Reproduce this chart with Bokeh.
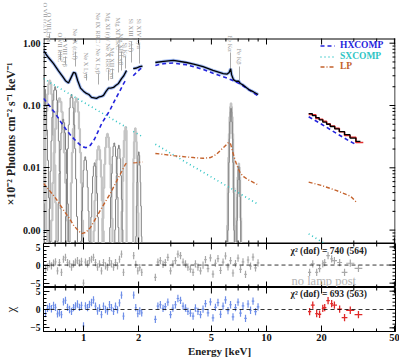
import math
from bokeh.plotting import figure
from bokeh.layouts import column
from bokeh.models import (Range1d, FixedTicker, PrintfTickFormatter, Label, Legend,
                          LegendItem, Span)
from bokeh.embed import file_html
from bokeh.resources import INLINE

# ----------------------------- data ---------------------------------
soft_E = [0.605, 0.64, 0.686, 0.73, 0.77, 0.797, 0.828, 0.855, 0.882, 0.904, 0.93, 0.963, 1.0,
          1.038, 1.07, 1.106, 1.14, 1.178, 1.22, 1.255, 1.286, 1.33, 1.37, 1.41, 1.459, 1.5,
          1.553, 1.613, 1.66, 1.697, 1.718]
soft_F = [0.76, 0.6, 0.47, 0.36, 0.29, 0.25, 0.23, 0.28, 0.34, 0.33, 0.25, 0.19, 0.17,
          0.156, 0.15, 0.135, 0.133, 0.13, 0.138, 0.14, 0.145, 0.17, 0.19, 0.19, 0.195, 0.21,
          0.226, 0.27, 0.3, 0.34, 0.365]
si_E = [1.87, 1.95, 2.03, 2.1]
si_F = [0.39, 0.40, 0.42, 0.43]
mid_E = [2.47, 2.74, 3.1, 3.65, 4.0, 4.5, 5.1, 5.8, 6.1, 6.25, 6.37, 6.45, 6.6, 6.8, 7.06,
         7.2, 7.5, 8.0, 8.5, 9.0]
mid_F = [0.49, 0.51, 0.53, 0.49, 0.46, 0.42, 0.365, 0.325, 0.32, 0.34, 0.39, 0.31, 0.26,
         0.245, 0.245, 0.225, 0.21, 0.18, 0.165, 0.15]
hard_edges = [17.0, 17.8, 18.6, 19.4, 20.3, 21.3, 22.3, 23.6, 25.0, 26.7, 28.6, 30.8, 32.6]
hard_model = [0.074, 0.069, 0.064, 0.059, 0.054, 0.050, 0.046, 0.042, 0.038, 0.034, 0.030, 0.0265]
hard_data_edges = [17.0, 17.8, 18.6, 19.4, 20.3, 21.3, 22.3, 23.6, 25.0, 26.7, 28.6, 30.8, 33.8]
hard_data = [0.072, 0.071, 0.062, 0.060, 0.056, 0.051, 0.047, 0.043, 0.038, 0.033, 0.031, 0.0255]

hx_soft_E = [0.605, 0.65, 0.70, 0.75, 0.80, 0.86, 0.92, 0.98, 1.03, 1.09, 1.15, 1.2, 1.26,
             1.33, 1.40, 1.48, 1.57, 1.65, 1.718]
hx_soft_F = [0.13, 0.10, 0.075, 0.055, 0.042, 0.032, 0.026, 0.022, 0.021, 0.023, 0.029,
             0.038, 0.052, 0.067, 0.086, 0.12, 0.165, 0.22, 0.27]
hx_si_E = [1.87, 1.95, 2.03, 2.1]
hx_si_F = [0.30, 0.34, 0.38, 0.41]
hx_mid_E = [2.47, 2.74, 3.1, 3.65, 4.0, 4.5, 5.1, 5.8, 6.5, 7.1, 8.0, 9.0]
hx_mid_F = [0.44, 0.47, 0.48, 0.45, 0.42, 0.38, 0.33, 0.29, 0.255, 0.225, 0.18, 0.142]
hx_hard_E = [17.0, 20.0, 24.0, 28.0, 31.0]
hx_hard_F = [0.066, 0.050, 0.036, 0.0275, 0.0235]

sx_soft_E = [0.605, 0.8, 1.0, 1.3, 1.718]
sx_soft_F = [0.27, 0.166, 0.113, 0.072, 0.0445]
sx_si_E = [1.87, 2.1]
sx_si_F = [0.0385, 0.0315]
sx_mid_E = [2.47, 4.0, 6.0, 9.0]
sx_mid_F = [0.0239, 0.0104, 0.0052, 0.0026]
sx_hard_E = [17.0, 22.0]
sx_hard_F = [0.00087, 0.00055]

lp_soft_E = [0.605, 0.64, 0.686, 0.73, 0.777, 0.83, 0.882, 0.93, 0.975, 1.03, 1.092, 1.16,
             1.238, 1.32, 1.404, 1.48, 1.553, 1.62, 1.697, 1.718]
lp_soft_F = [0.0056, 0.0046, 0.0036, 0.0028, 0.0021, 0.0016, 0.0012, 0.001, 0.00088, 0.00092,
             0.0011, 0.0015, 0.0021, 0.0029, 0.0039, 0.0053, 0.007, 0.0088, 0.0115, 0.0118]
lp_si_E = [1.87, 1.95, 2.03, 2.1]
lp_si_F = [0.0120, 0.0121, 0.0123, 0.0124]
lp_mid_E = [2.47, 2.8, 3.1, 3.6, 4.0, 4.5, 4.94, 5.33, 5.6, 5.9, 6.2, 6.37, 6.5, 6.7, 6.85,
            7.03, 7.2, 7.5, 7.96, 8.8, 9.0]
lp_mid_F = [0.0170, 0.0163, 0.0157, 0.015, 0.0146, 0.0142, 0.0146, 0.0165, 0.019, 0.022,
            0.0255, 0.024, 0.019, 0.014, 0.0115, 0.0095, 0.0082, 0.0072, 0.0064, 0.0055, 0.0053]
lp_hard_E = [17.0, 20.0, 24.2, 28.8, 31.0]
lp_hard_F = [0.0059, 0.0052, 0.0043, 0.0035, 0.0028]

em_light_E = [0.572, 0.654, 0.739, 0.915, 1.21, 1.352, 1.70, 1.92, 6.40, 7.06]
em_light_pk = [0.45, 0.25, 0.13, 0.13, 0.022, 0.035, 0.045, 0.043, 0.108, 0.0117]
em_light_w = [0.012, 0.011, 0.014, 0.011, 0.010, 0.010, 0.008, 0.006, 0.0065, 0.0055]
em_dark_E = [0.60, 0.700, 0.775, 0.86, 1.022, 1.15, 1.473, 1.56, 2.006, 6.40, 7.06]
em_dark_pk = [0.30, 0.20, 0.06, 0.15, 0.015, 0.012, 0.025, 0.023, 0.018, 0.09, 0.0105]
em_dark_w = [0.011, 0.010, 0.010, 0.010, 0.009, 0.009, 0.009, 0.008, 0.006, 0.0055, 0.0048]
prof_off = [-4, -3.5, -3, -2.5, -2, -1.5, -1, -0.5, 0, 0.5, 1, 1.5, 2, 2.5, 3, 3.5, 4]
prof_val = [0.0003, 0.0022, 0.011, 0.044, 0.135, 0.325, 0.607, 0.882, 1.0, 0.882, 0.607,
            0.325, 0.135, 0.044, 0.011, 0.0022, 0.0003]

line_id_names = ["O VII (r,i,f)", "O VIII Lyα", "O VII RRC", "O VIII Lyβ", "Ne IX (r,i,f)",
                 "Ne X Lyα", "Ne IX RRC / Ne X Lyβ", "Mg XI (r) / Ne X RRC", "Mg XII Lyα",
                 "Mg XI RRC", "Mg XII Lyβ", "Si Kα", "Si XIII (r,i,f)", "Si XIV Lyα",
                 "Fe Kα", "Fe Kβ"]

res_soft_E = [0.620, 0.636, 0.652, 0.668, 0.686, 0.703, 0.721, 0.739, 0.758, 0.777, 0.797,
              0.818, 0.839, 0.860, 0.882, 0.904, 0.927, 0.951, 0.975, 1.000, 1.025, 1.052,
              1.078, 1.106, 1.134, 1.163, 1.193, 1.223, 1.254, 1.286, 1.319, 1.352, 1.387,
              1.422, 1.459, 1.496, 1.534, 1.573, 1.613, 1.654]
res1_soft = [-1.1, -0.6, 0.3, -0.2, 0.5, 0.9, -1.6, 0.7, -2.0, 1.6, 2.1, 0.7, 0.3, -0.6, 0.3,
             0.8, 1.2, 0.5, 1.0, -5.0, 0.8, 0.3, 1.2, 1.6, 2.1, 0.7, -0.6, 0.3, -1.6, 0.7,
             -0.2, -0.6, 1.2, 0.3, -0.6, 0.7, -0.2, 1.6, 3.0, -2.0]
res2_soft = [-1.1, 0.3, 0.8, 0.2, 1.1, 0.6, -1.2, -0.9, -1.4, 2.1, 2.5, 0.6, 0.0, -0.5, 0.5,
             1.0, 1.5, 0.6, 1.1, -4.5, 1.0, 0.5, 1.4, 1.9, 2.6, 0.9, -0.4, 0.4, -1.4, 0.9,
             0.0, -0.4, 1.3, 0.5, -0.5, 0.9, -0.1, 1.8, 3.9, -1.8]
res_si_E = [1.88, 1.93, 1.98, 2.03, 2.08]
res1_si = [2.6, 0.2, -1.6, -0.7, -2.0]
res2_si = [3.9, 0.5, -1.1, -0.4, -0.9]
res_mid_E = [2.47, 2.55, 2.63, 2.72, 2.80, 2.89, 2.99, 3.08, 3.18, 3.28, 3.39, 3.50, 3.61,
             3.72, 3.84, 3.97, 4.09, 4.22, 4.36, 4.50, 4.64, 4.79, 4.94, 5.10, 5.26, 5.43,
             5.61, 5.79, 5.97, 6.16, 6.36, 6.56, 6.77, 6.99, 7.21, 7.44, 7.68, 7.93, 8.18,
             8.44, 8.71, 8.99]
res1_mid = [-3.4, 0.8, 1.2, 0.2, 0.7, 2.1, -1.6, 0.3, 1.2, 3.0, 2.6, 0.8, 0.3, -0.6, -1.1,
            -2.0, 0.3, -0.6, -1.6, 0.0, 1.5, -1.0, 2.0, -2.5, 0.5, 1.8, -1.5, 0.8, 2.5, -0.5,
            1.2, -2.2, 0.4, 1.9, -1.2, 0.9, -2.6, 1.4, -0.3, 2.2, -0.8, 0.6]
res2_mid = [-2.7, 0.9, 1.3, 0.3, 0.8, 2.0, -1.4, 0.4, 1.3, 3.0, 2.5, 0.9, 0.4, -0.5, -1.0,
            -1.8, 0.4, -0.5, -1.4, 0.1, 1.6, -0.9, 2.1, -2.3, 0.6, 1.9, -1.3, 0.9, 2.6, -0.3,
            1.3, -2.0, 0.5, 2.0, -1.0, 1.0, -2.4, 1.5, -0.2, 2.3, -0.6, 0.7]
res_hard_E = [17.2, 17.9, 18.8, 19.5, 20.3, 20.8, 21.7, 22.7, 23.5, 25.1, 26.7, 28.7, 31.8]
res1_hard = [-2.0, 0.3, -2.0, -1.0, 0.3, 0.7, 2.6, 1.7, 1.2, 0.7, -2.0, 0.5, -0.9]
res2_hard = [-0.6, 1.2, -1.1, -1.3, 0.3, 0.5, 2.4, 1.6, 1.2, 0.1, -2.2, -0.2, -1.4]

chi_text1 = "χ² (dof) = 740 (564)"
chi_text2 = "χ² (dof) = 693 (563)"
x_major = [1, 2, 5, 10, 20, 50]
x_minor = [0.7, 0.8, 0.9, 3, 4, 6, 7, 8, 9, 30, 40]
y_major = [0.001, 0.01, 0.1, 1.0]
r_major = [-5, 0, 5]

# ----------------------------- layout helpers ------------------------
FONT = "Liberation Serif"
FW = 352
HX_COL, SX_COL, LP_COL = "#2424dd", "#2ec4c4", "#c4622c"
DATA_BLUE = "#88a8ee"
PXDEC_X = 183.0
PXDEC_Y = 62.3


def ex(px):
    return 10 ** ((px - 80.0) / PXDEC_X)


def fy(py):
    return 10 ** ((42.7 - py) / PXDEC_Y)


xr = Range1d(ex(40), ex(392))
y_minor = [k * d for d in (1e-4, 1e-3, 1e-2, 1e-1) for k in range(2, 10)]
r_minor = list(range(-6, 7))


def style_axis(ax, fs="10px"):
    ax.major_tick_in = 6
    ax.major_tick_out = 0
    ax.minor_tick_in = 3
    ax.minor_tick_out = 0
    ax.axis_line_color = "black"
    ax.major_tick_line_color = "black"
    ax.minor_tick_line_color = "black"
    ax.major_label_text_font = FONT
    ax.major_label_text_font_style = "bold"
    ax.major_label_text_color = "#111111"
    ax.major_label_text_font_size = fs
    ax.major_label_standoff = 3
    ax.axis_label_text_font = FONT
    ax.axis_label_text_font_style = "bold"
    ax.axis_label_text_color = "#222222"


def add_edge_ticks(f, ylog, ylo, yhi, ypx, yticks, bottom=True):
    xs0, ys0, xs1, ys1 = [], [], [], []
    for ticks, L in [(x_major, 6), (x_minor, 3)]:
        for t in ticks:
            if ylog:
                d = 10 ** (L / ypx)
                ends = [(yhi, yhi / d)] + ([(ylo, ylo * d)] if bottom else [])
            else:
                d = L / ypx
                ends = [(yhi, yhi - d)] + ([(ylo, ylo + d)] if bottom else [])
            for a, b in ends:
                xs0.append(t); xs1.append(t); ys0.append(a); ys1.append(b)
    xhi = xr.end
    for ticks, L in [(yticks[0], 6), (yticks[1], 3)]:
        for t in ticks:
            if ylo <= t <= yhi:
                xs0.append(xhi); xs1.append(xhi / 10 ** (L / PXDEC_X))
                ys0.append(t); ys1.append(t)
    f.segment(x0=xs0, y0=ys0, x1=xs1, y1=ys1, line_color="black", line_width=1)


# ----------------------------- main panel ----------------------------
# the frame reaches the top of the page so the line IDs above the box stay visible;
# the visible box (page y 38..243) is drawn by hand.
YLO, YHI = fy(243), fy(38)
p = figure(frame_width=FW, frame_height=243, x_axis_type="log", y_axis_type="log",
           x_range=xr, y_range=Range1d(YLO, fy(0)), x_axis_location=None,
           min_border_left=40, min_border_right=7, min_border_top=0, min_border_bottom=0,
           output_backend="svg", toolbar_location=None)
p.grid.visible = False
p.outline_line_color = None
p.yaxis.ticker = FixedTicker(ticks=y_major, minor_ticks=y_minor)
p.yaxis.formatter = PrintfTickFormatter(format="%.2f")
style_axis(p.yaxis[0], fs="10px")
p.yaxis.axis_line_color = None
p.yaxis.axis_label = "×10⁻² Photons cm⁻² s⁻¹ keV⁻¹" + "\u00a0" * 8
p.yaxis.axis_label_text_font_size = "12px"
p.yaxis.axis_label_standoff = 2

XIN_L = xr.start * 10 ** (0.5 / PXDEC_X)
XIN_R = xr.end / 10 ** (0.5 / PXDEC_X)
YIN_B = YLO * 10 ** (0.5 / PXDEC_Y)
YIN_T = YHI / 10 ** (0.5 / PXDEC_Y)
p.segment(x0=[XIN_L, XIN_R, xr.start, xr.start], y0=[YLO, YLO, YIN_T, YIN_B],
          x1=[XIN_L, XIN_R, xr.end, xr.end], y1=[YHI, YHI, YIN_T, YIN_B],
          line_color="black", line_width=1)

segs = [(0.5, 1.72), (1.87, 2.1), (2.47, 9.0)]


def line_steps(E0, peak, sig):
    a, b = next((s for s in segs if s[0] <= E0 <= s[1]), segs[0])
    xs, ys = [], []
    for o, v in zip(prof_off, prof_val):
        xs += [E0 * 10 ** ((o - 0.25) * sig), E0 * 10 ** ((o + 0.25) * sig)]
        ys += [peak * v, peak * v]
    X, Y = [], []
    for x, y in zip(xs, ys):
        if a <= x <= b:
            X.append(x)
            Y.append(min(y, YHI))
    if xs[0] < a and X:
        X = [a, a] + X
        Y = [1e-6, Y[0]] + Y
    if xs[-1] > b and X:
        X = X + [b, b]
        Y = Y + [Y[-1], 1e-6]
    return X, Y


for E0, pk, w in zip(em_light_E, em_light_pk, em_light_w):
    X, Y = line_steps(E0, pk, w)
    p.line(X, Y, line_color="#c4c4c4", line_width=2.2)
for E0, pk, w in zip(em_dark_E, em_dark_pk, em_dark_w):
    X, Y = line_steps(E0, pk, w)
    p.line(X, Y, line_color="#808080", line_width=1.0)

# line identification labels: (page x, text top y, tick start y, tick end y)
id_layout = [(42, 2, None, None), (46, 12, 33, 40), (57, 32, 51, 60), (62, 37, 56, 64),
             (72, 28, 51, 66), (83, 52, 73, 80), (95, 12, 73, 84), (105, 12, 69, 80),
             (109, 47, 68, 78), (115, 17, 44, 72), (118, 33, 51, 70), (122, 42, 56, 68),
             (128, 18, 41, 62), (136, 18, 43, 63), (227, 35, 52, 68), (236, 48, 66, 80)]
tx, ty0, ty1 = [], [], []
for name, (px, yt, y0, y1) in zip(line_id_names, id_layout):
    p.add_layout(Label(x=ex(px), y=fy(yt), text=name, angle=-math.pi / 2,
                       text_align="left", text_baseline="middle", text_font=FONT,
                       text_font_size="6.5px", text_color="#999999"))
    if y0 is not None:
        tx.append(px); ty0.append(y0); ty1.append(y1)
p.segment(x0=[ex(v) for v in tx], y0=[fy(v) for v in ty0], x1=[ex(v) for v in tx],
          y1=[fy(v) for v in ty1], line_color="#aaaaaa", line_width=1)

sx_r = None
for E, F in [(sx_soft_E, sx_soft_F), (sx_si_E, sx_si_F), (sx_mid_E, sx_mid_F), (sx_hard_E, sx_hard_F)]:
    r = p.line(E, F, line_color=SX_COL, line_width=1.6, line_dash="1 3")
    sx_r = sx_r or r
lp_r = None
for E, F in [(lp_soft_E, lp_soft_F), (lp_si_E, lp_si_F), (lp_mid_E, lp_mid_F), (lp_hard_E, lp_hard_F)]:
    r = p.line(E, F, line_color=LP_COL, line_width=1.4, line_dash="4 2 1 2")
    lp_r = lp_r or r

for E, F in [(soft_E, soft_F), (si_E, si_F), (mid_E, mid_F)]:
    p.line(E, F, line_color=DATA_BLUE, line_width=3.2, line_alpha=0.8)
p.step(hard_data_edges, hard_data + [hard_data[-1]], mode="after", line_color="#e23030", line_width=1.6)

hx_r = None
for E, F in [(hx_soft_E, hx_soft_F), (hx_si_E, hx_si_F), (hx_mid_E, hx_mid_F), (hx_hard_E, hx_hard_F)]:
    r = p.line(E, F, line_color=HX_COL, line_width=1.6, line_dash="4 3")
    hx_r = hx_r or r

for E, F in [(soft_E, soft_F), (si_E, si_F), (mid_E, mid_F)]:
    p.line(E, F, line_color="black", line_width=1.3)
p.step(hard_edges, hard_model + [hard_model[-1]], mode="after", line_color="black", line_width=1.3)

add_edge_ticks(p, True, YLO, YHI, PXDEC_Y, (y_major, y_minor), bottom=True)

for r, name, col, yb in [(hx_r, "HXCOMP", HX_COL, 193), (sx_r, "SXCOMP", SX_COL, 182),
                         (lp_r, "LP", LP_COL, 172)]:
    leg = Legend(items=[LegendItem(label=name, renderers=[r])], location=(277, yb),
                 border_line_color=None, background_fill_alpha=0, padding=0, margin=0,
                 spacing=0, glyph_width=15, glyph_height=9, label_height=9, label_standoff=5,
                 label_text_font=FONT, label_text_font_size="9.5px",
                 label_text_font_style="bold", label_text_color=col)
    p.add_layout(leg)


def resid_fig(yr, bottom):
    f = figure(frame_width=FW, frame_height=44, x_axis_type="log", x_range=xr,
               y_range=Range1d(*yr), min_border_left=40, min_border_right=7,
               min_border_top=0, min_border_bottom=0,
               x_axis_location="below" if bottom else None,
               output_backend="svg", toolbar_location=None)
    f.grid.visible = False
    f.outline_line_color = "black"
    if bottom:
        f.xaxis.ticker = FixedTicker(ticks=x_major, minor_ticks=x_minor)
        style_axis(f.xaxis[0], fs="10.5px")
        f.xaxis.major_label_standoff = 2
        f.xaxis.formatter = PrintfTickFormatter(format="%d")
        f.xaxis.axis_label = "Energy [keV]"
        f.xaxis.axis_label_text_font_size = "11px"
        f.xaxis.axis_label_standoff = 1
    f.yaxis.ticker = FixedTicker(ticks=r_major, minor_ticks=r_minor)
    f.yaxis.major_label_overrides = {-5: "−5", 0: "0", 5: "5"}
    style_axis(f.yaxis[0], fs="9.5px")
    f.add_layout(Span(location=0, dimension="width", line_color="black",
                      line_dash="4 3", line_width=0.8))
    add_edge_ticks(f, False, yr[0], yr[1], 44.0 / (yr[1] - yr[0]), (r_major, r_minor),
                   bottom=not bottom)
    return f


def crosses(f, E, R, frac, color, lw):
    f.segment(x0=E, y0=[v - 1 for v in R], x1=E, y1=[v + 1 for v in R],
              line_color=color, line_width=lw)
    f.segment(x0=[e / (1 + frac) for e in E], y0=R, x1=[e * (1 + frac) for e in E], y1=R,
              line_color=color, line_width=lw)


def hard_crosses(f, E, R, color, lw):
    fr = []
    for i, e in enumerate(E):
        nb = E[i + 1] if i + 1 < len(E) else E[i - 1]
        fr.append(abs(math.sqrt(nb / e) - 1))
    f.segment(x0=E, y0=[v - 1 for v in R], x1=E, y1=[v + 1 for v in R],
              line_color=color, line_width=lw)
    f.segment(x0=[e / (1 + a) for e, a in zip(E, fr)], y0=R,
              x1=[e * (1 + a) for e, a in zip(E, fr)], y1=R, line_color=color, line_width=lw)


r1 = resid_fig((-6.2, 5.95), False)
GRAY = "#a8a8a8"
crosses(r1, res_soft_E, res1_soft, 0.012, GRAY, 1.2)
crosses(r1, res_si_E, res1_si, 0.012, GRAY, 1.2)
crosses(r1, res_mid_E, res1_mid, 0.016, GRAY, 1.2)
hard_crosses(r1, res_hard_E, res1_hard, GRAY, 1.2)
r1.add_layout(Label(x=ex(287), y=4.0, text=chi_text1, text_align="left", text_baseline="middle",
                    text_font=FONT, text_font_size="9.5px", text_font_style="bold",
                    text_color="#222222"))
r1.add_layout(Label(x=ex(288), y=-4.5, text="no lamp post", text_align="left",
                    text_baseline="middle", text_font=FONT, text_font_size="12.5px",
                    text_color="#b4b4b4"))

r2 = resid_fig((-6.0, 6.0), True)
BLUE = "#6f8fe8"
crosses(r2, res_soft_E, res2_soft, 0.012, BLUE, 1.2)
crosses(r2, res_si_E, res2_si, 0.012, BLUE, 1.2)
crosses(r2, res_mid_E, res2_mid, 0.016, BLUE, 1.2)
hard_crosses(r2, res_hard_E, res2_hard, "#e02828", 1.3)
r2.add_layout(Label(x=ex(287), y=4.1, text=chi_text2, text_align="left", text_baseline="middle",
                    text_font=FONT, text_font_size="9.5px", text_font_style="bold",
                    text_color="#222222"))
r2.yaxis.axis_label = "χ"
r2.yaxis.axis_label_text_font_size = "13px"
r2.yaxis.axis_label_text_font_style = "normal"
r2.yaxis.axis_label_standoff = 9

layout = column(p, r1, r2, spacing=0)
open("out.html", "w").write(file_html(layout, INLINE))
